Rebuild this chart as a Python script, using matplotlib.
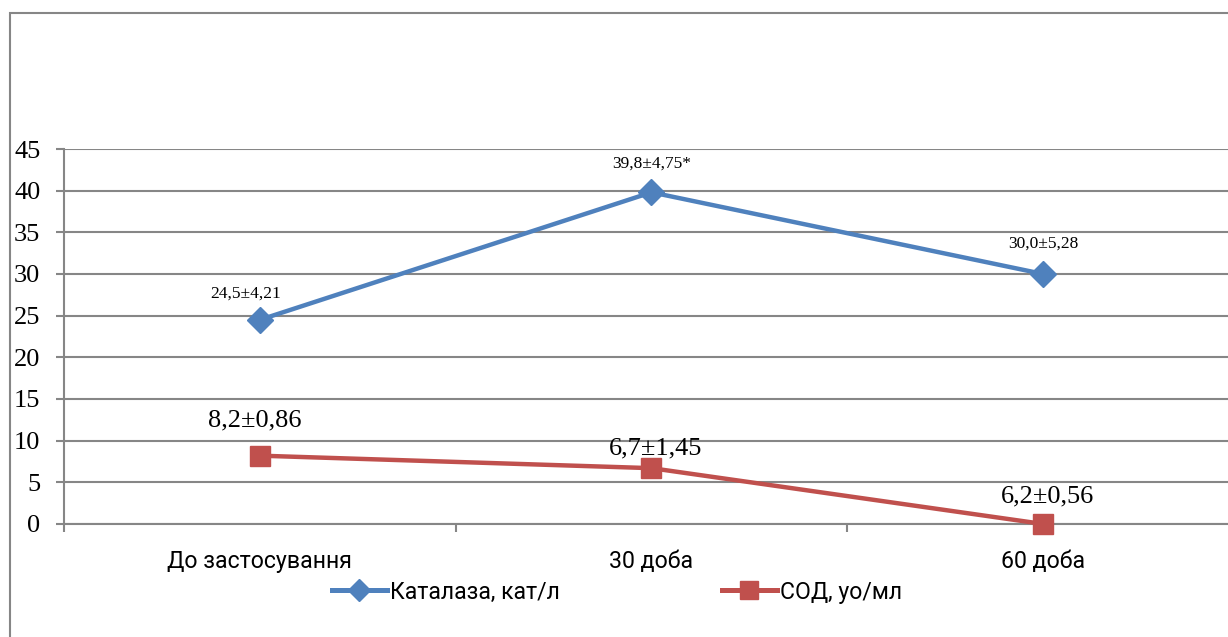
import matplotlib.pyplot as plt
from matplotlib.lines import Line2D
from matplotlib.patches import Rectangle

categories = ['До застосування', '30 доба', '60 доба']
catalase = [24.5, 39.8, 30.0]
sod = [8.2, 6.7, 0]
catalase_labels = ['24,5±4,21', '39,8±4,75*', '30,0±5,28']
sod_labels = ['8,2±0,86', '6,7±1,45', '6,2±0,56']
series_names = ['Каталаза, кат/л', 'СОД, уо/мл']
y_ticks = [0, 5, 10, 15, 20, 25, 30, 35, 40, 45]

blue = '#4F81BD'
red = '#C0504D'
grid_c = '#868686'
serif = ['Liberation Serif', 'DejaVu Serif']
sans = ['Roboto', 'DejaVu Sans']

fig = plt.figure(figsize=(12.28, 6.37), dpi=100)
fig.patches.append(Rectangle((10 / 1228, -0.1), 1.2, 1 - 13 / 637 + 0.1,
                             transform=fig.transFigure, fill=False,
                             edgecolor=grid_c, linewidth=1.5))
ax = fig.add_axes([64 / 1228, 1 - 524 / 637, 1175 / 1228, 375 / 637])

x = list(range(len(categories)))
ax.plot(x, catalase, color=blue, lw=3.2, marker='D', ms=13, zorder=3, clip_on=False)
ax.plot(x, sod, color=red, lw=3.2, marker='s', ms=14, zorder=3, clip_on=False)

# value labels
cat_off = [(-10, 19), (0, 21), (0, 22)]
for xi, yi, s, off in zip(x, catalase, catalase_labels, cat_off):
    ax.annotate(s, (xi, yi), xytext=off, textcoords='offset points',
                ha='center', va='center', fontsize=12.5, family=serif)
sod_off = [(-4, 25), (3, 14), (3, 20)]
for xi, yi, s, off in zip(x, sod, sod_labels, sod_off):
    ax.annotate(s, (xi, yi), xytext=off, textcoords='offset points',
                ha='center', va='center', fontsize=19, family=serif)

ax.set_xlim(-0.5, len(categories) - 0.5)
ax.set_ylim(0, 45)
ax.set_yticks(y_ticks)
ax.set_yticklabels([str(t) for t in y_ticks], family=serif, fontsize=19)
ax.set_xticks(x)
ax.set_xticklabels(categories, family=sans, fontsize=16.7)
ax.set_xticks([i - 0.5 for i in range(len(categories) + 1)], minor=True)
ax.tick_params(axis='x', which='major', length=0, pad=19)
ax.tick_params(axis='x', which='minor', length=6, color=grid_c, width=1.5)
ax.tick_params(axis='y', length=6, color=grid_c, width=1.5, pad=11)

ax.grid(axis='y', color=grid_c, linewidth=1.5)
ax.set_axisbelow(True)
for side in ['top', 'right']:
    ax.spines[side].set_visible(False)
for side in ['left', 'bottom']:
    ax.spines[side].set_color(grid_c)
    ax.spines[side].set_linewidth(1.5)

handles = [Line2D([], [], color=blue, lw=3.6, marker='D', ms=11),
           Line2D([], [], color=red, lw=3.6, marker='s', ms=12.5)]
fig.legend(handles, series_names, loc='center', bbox_to_anchor=(617 / 1228, 1 - 592 / 637),
           ncol=2, frameon=False, prop={'family': sans, 'size': 16.6},
           handlelength=2.4, handletextpad=0.15, columnspacing=7.0)

fig.savefig('out.png', dpi=100)
